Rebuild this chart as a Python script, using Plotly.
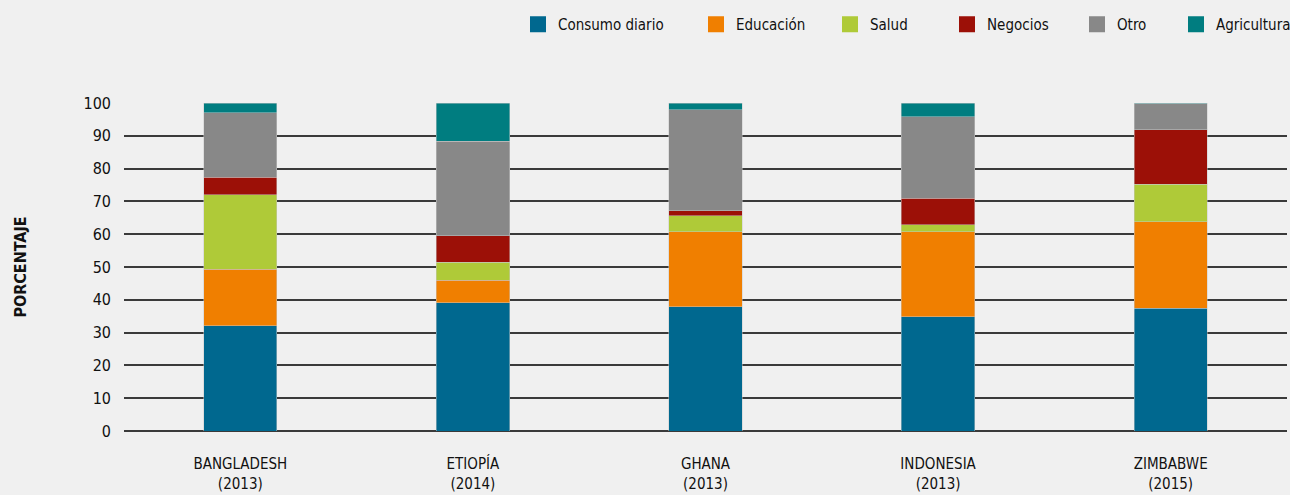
import plotly.graph_objects as go

# Country surveys shown on the x axis
countries = ["BANGLADESH", "ETIOPÍA", "GHANA", "INDONESIA", "ZIMBABWE"]
years = ["(2013)", "(2014)", "(2013)", "(2013)", "(2015)"]

# Share of loan use by purpose (percent), stacked bottom to top
consumo_diario = [32.1, 39.1, 37.9, 34.8, 37.4]
educacion = [17.2, 6.9, 22.8, 25.9, 26.4]
salud = [22.7, 5.5, 4.9, 2.2, 11.5]
negocios = [5.3, 8.1, 1.6, 8.0, 16.6]
otro = [19.7, 28.7, 30.7, 24.9, 7.9]
agricultura = [3.0, 11.7, 2.1, 4.2, 0.2]

series_names = ["Consumo diario", "Educación", "Salud", "Negocios", "Otro", "Agricultura"]
series_values = [consumo_diario, educacion, salud, negocios, otro, agricultura]
series_colors = ["#00688f", "#f07f00", "#afca38", "#9c1007", "#888888", "#007d80"]

y_ticks = list(range(0, 101, 10))

# left edge (px) of each legend entry along the top row
legend_left_px = [528, 706, 840, 957, 1087, 1186]

FONT = "DejaVu Sans Condensed, Liberation Sans Narrow, sans-serif"
BG = "#f0f0f0"
W, H = 1290, 495

labels = [f"{c}<br>{y}" for c, y in zip(countries, years)]
xs = list(range(len(countries)))

fig = go.Figure()

for name, vals, color in zip(series_names, series_values, series_colors):
    fig.add_trace(go.Bar(
        x=xs, y=vals, name=name, showlegend=False,
        marker=dict(color=color, line=dict(color="rgba(200,200,200,0.6)", width=0.8)),
        width=0.315,
    ))

# Square legend swatches, one legend box per entry so each sits at its own spot
legend_layout = {}
for i, (name, color) in enumerate(zip(series_names, series_colors)):
    key = "legend" if i == 0 else f"legend{i + 1}"
    fig.add_trace(go.Scatter(
        x=[None], y=[None], mode="markers", name=name,
        marker=dict(symbol="square", size=16, color=color),
        showlegend=True, legend=key,
    ))
    legend_layout[key] = dict(
        orientation="h", xref="container", yref="container",
        x=(legend_left_px[i] - 10) / W, xanchor="left",
        y=1 - 8 / H, yanchor="top",
        font=dict(family=FONT, size=15, color="#111111"),
        bgcolor="rgba(0,0,0,0)", itemwidth=30,
    )

fig.update_layout(
    barmode="stack",
    width=W, height=H,
    paper_bgcolor=BG, plot_bgcolor=BG,
    margin=dict(l=124, r=3, t=103, b=64),
    font=dict(family=FONT, color="#111111"),
    **legend_layout,
)

fig.update_xaxes(
    tickmode="array", tickvals=xs, ticktext=labels,
    range=[-0.5, len(countries) - 0.5],
    showgrid=False, showline=False, zeroline=False, ticks="",
    ticklabelstandoff=22,
    tickfont=dict(family=FONT, size=15, color="#111111"),
)

fig.update_yaxes(
    range=[0, 100], tickvals=y_ticks,
    showgrid=True, gridcolor="#3a3a3a", gridwidth=1.5,
    zeroline=True, zerolinecolor="#3a3a3a", zerolinewidth=1.5,
    showline=False, ticks="",
    ticklabelstandoff=12,
    tickfont=dict(family=FONT, size=16, color="#111111"),
    title=dict(text="<b>PORCENTAJE</b>", font=dict(family=FONT, size=16, color="#111111"), standoff=52),
)

fig.write_html("out.html")
